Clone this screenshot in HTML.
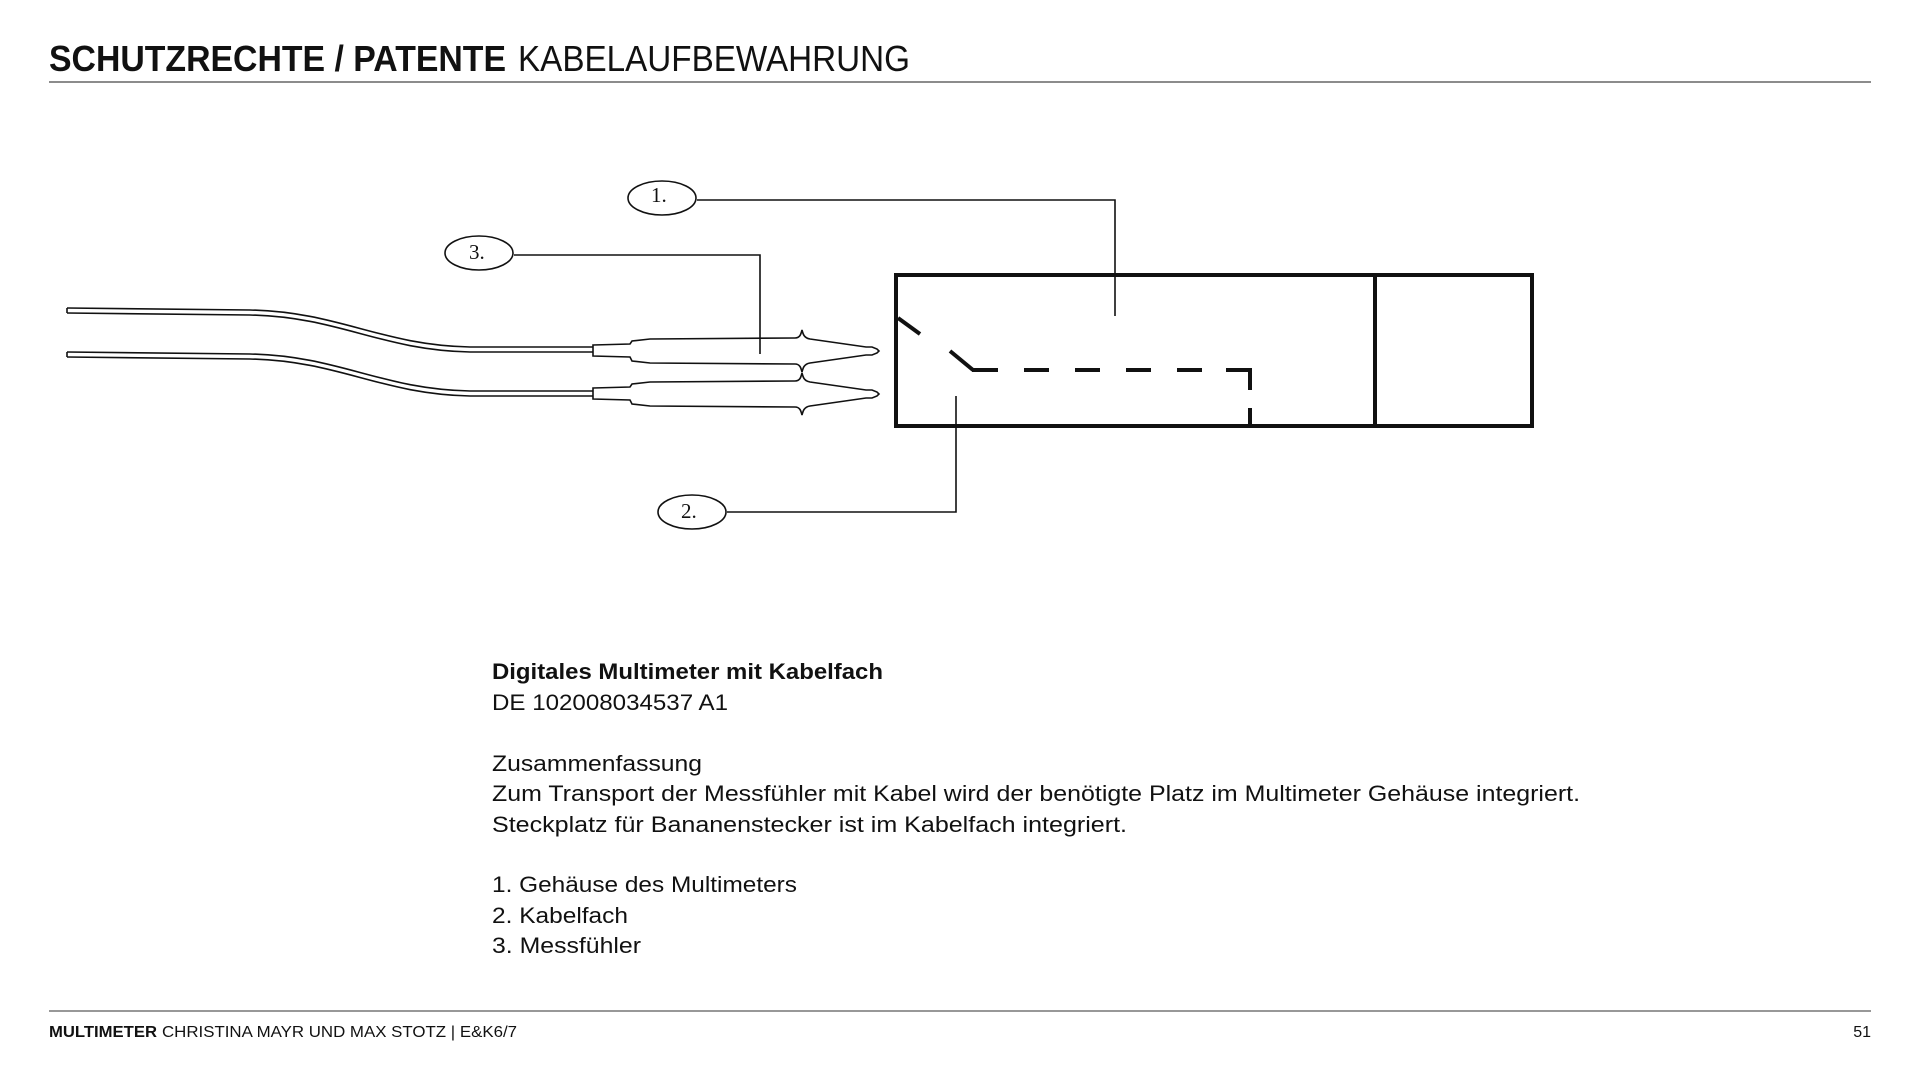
<!DOCTYPE html>
<html><head><meta charset="utf-8"><style>
html,body{margin:0;padding:0;background:#fff;width:1920px;height:1080px;overflow:hidden}
svg{display:block}
text{font-family:"Liberation Sans",sans-serif;fill:#111}
</style></head><body>
<svg width="1920" height="1080" viewBox="0 0 1920 1080" xmlns="http://www.w3.org/2000/svg">
<!-- header -->
<text x="49" y="71" font-size="36" font-weight="bold" textLength="457" lengthAdjust="spacingAndGlyphs">SCHUTZRECHTE / PATENTE</text>
<text x="518" y="71" font-size="36" textLength="392" lengthAdjust="spacingAndGlyphs" fill="#222">KABELAUFBEWAHRUNG</text>
<line x1="49" y1="82" x2="1871" y2="82" stroke="#666" stroke-width="1.5"/>

<!-- cables -->
<g fill="none" stroke="#111" stroke-width="1.6">
<path d="M67 308 L250 310 C340 312 380 345 470 347 L593 347"/>
<path d="M67 313 L250 315 C340 317 380 350 470 352 L593 352"/>
<path d="M67 352 L250 354 C340 356 380 389 470 391 L593 391"/>
<path d="M67 357 L250 359 C340 361 380 394 470 396 L593 396"/>
<line x1="67" y1="308" x2="67" y2="313"/>
<line x1="67" y1="352" x2="67" y2="357"/>
<!-- probe 1 -->
<path d="M593 345 L630 344 L632 341 L650 339 L795 338 C800 338 801 334 802 330 C803 334 804 338 810 339 L866 347 L872 347 L877 349 L879 351 L877 353 L872 355 L866 355 L810 363 C804 364 803 368 802 372 C801 368 800 364 795 364 L650 363 L632 361 L630 357 L593 356 Z"/>
<!-- probe 2 -->
<path d="M593 388 L630 387 L632 384 L650 382 L795 381 C800 381 801 377 802 373 C803 377 804 381 810 382 L866 390 L872 390 L877 392 L879 394 L877 396 L872 398 L866 398 L810 406 C804 407 803 411 802 415 C801 411 800 407 795 407 L650 406 L632 404 L630 400 L593 399 Z"/>
</g>

<!-- box -->
<g fill="none" stroke="#111" stroke-width="4">
<rect x="896" y="275" width="636" height="151"/>
<line x1="1375" y1="275" x2="1375" y2="426"/>
<line x1="898" y1="318" x2="920" y2="334"/>
<line x1="950" y1="351" x2="973" y2="370"/>
<path d="M972 370 H998 M1024 370 H1049 M1075 370 H1100 M1126 370 H1151 M1177 370 H1202 M1226 370 H1250 V390 M1250 408 V426"/>
</g>

<!-- leaders -->
<g fill="none" stroke="#111" stroke-width="1.6">
<ellipse cx="662" cy="198" rx="34" ry="17"/>
<polyline points="697,200 1115,200 1115,316"/>
<ellipse cx="479" cy="253" rx="34" ry="17"/>
<polyline points="514,255 760,255 760,354"/>
<ellipse cx="692" cy="512" rx="34" ry="17"/>
<polyline points="727,512 956,512 956,396"/>
</g>
<g font-size="21">
<text x="651" y="202" style="font-family:'Liberation Serif',serif">1.</text>
<text x="469" y="259" style="font-family:'Liberation Serif',serif">3.</text>
<text x="681" y="518" style="font-family:'Liberation Serif',serif">2.</text>
</g>

<!-- body text -->
<g font-size="22">
<text x="492" y="679" font-weight="bold" textLength="391" lengthAdjust="spacingAndGlyphs">Digitales Multimeter mit Kabelfach</text>
<text x="492" y="710" textLength="236" lengthAdjust="spacingAndGlyphs">DE 102008034537 A1</text>
<text x="492" y="771" textLength="210" lengthAdjust="spacingAndGlyphs">Zusammenfassung</text>
<text x="492" y="801" textLength="1088" lengthAdjust="spacingAndGlyphs">Zum Transport der Messfühler mit Kabel wird der benötigte Platz im Multimeter Gehäuse integriert.</text>
<text x="492" y="832" textLength="635" lengthAdjust="spacingAndGlyphs">Steckplatz für Bananenstecker ist im Kabelfach integriert.</text>
<text x="492" y="892" textLength="305" lengthAdjust="spacingAndGlyphs">1. Gehäuse des Multimeters</text>
<text x="492" y="923" textLength="136" lengthAdjust="spacingAndGlyphs">2. Kabelfach</text>
<text x="492" y="953" textLength="149" lengthAdjust="spacingAndGlyphs">3. Messfühler</text>
</g>

<!-- footer -->
<line x1="49" y1="1011" x2="1871" y2="1011" stroke="#777" stroke-width="1.5"/>
<text x="49" y="1037" font-size="16" font-weight="bold" textLength="108" lengthAdjust="spacingAndGlyphs">MULTIMETER</text>
<text x="162" y="1037" font-size="16" textLength="355" lengthAdjust="spacingAndGlyphs" fill="#222">CHRISTINA MAYR UND MAX STOTZ | E&amp;K6/7</text>
<text x="1871" y="1037" font-size="16" text-anchor="end" fill="#222">51</text>
</svg>
</body></html>
